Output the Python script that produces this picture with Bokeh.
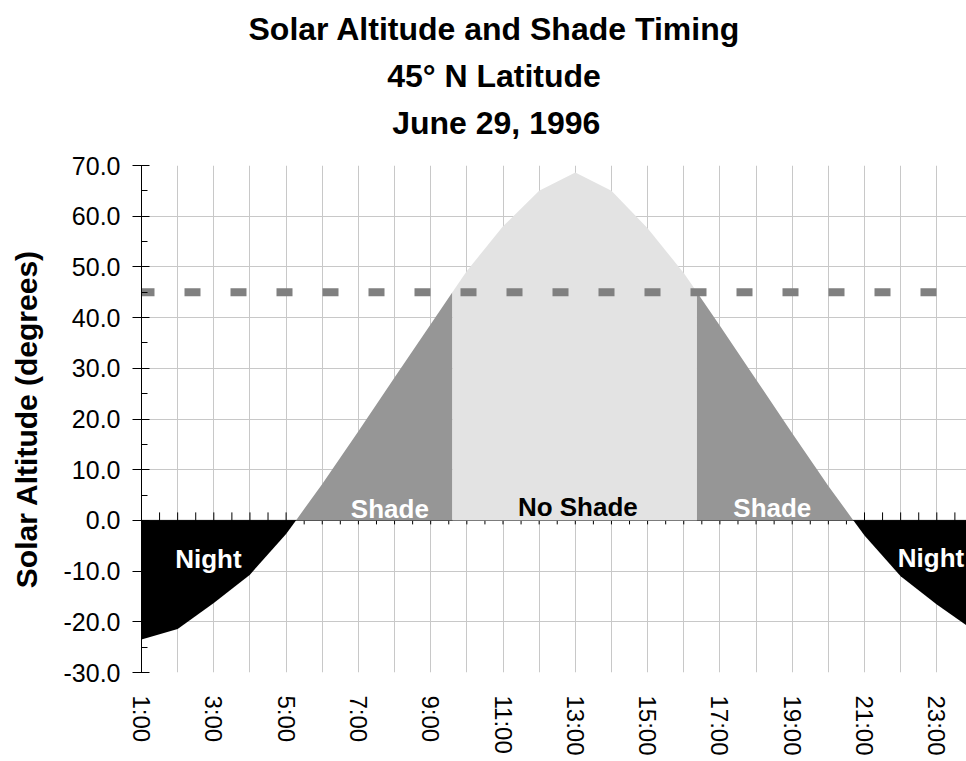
import numpy as np
from math import pi
from bokeh.plotting import figure
from bokeh.models import Range1d, FixedTicker, SingleIntervalTicker, PrintfTickFormatter, Label, Title
from bokeh.embed import file_html
from bokeh.resources import INLINE

# ---- data ----
hours = list(range(1, 25))
hour_labels = [f"{h}:00" for h in hours]
altitude = [-23.5, -21.4, -16.3, -10.7, -2.7, 7.2, 17.6, 28.2, 38.7, 49.2, 58.0, 65.0,
            68.6, 65.0, 57.6, 48.8, 38.4, 27.8, 17.2, 6.8, -3.0, -11.0, -16.6, -21.6]
shade_limit = 45.0
title_lines = ["Solar Altitude and Shade Timing", "45\u00b0 N Latitude", "June 29, 1996"]
y_title = "Solar Altitude (degrees)"
region_names = ["Night", "Shade", "No Shade", "Shade", "Night"]

FONT = "Liberation Sans"
LEFT, TOP = 141, 165
FRAME_W, FRAME_H = 825, 507
HOUR_PX = 36.15
Y0, Y1 = -30, 70
PX_PER_UNIT = FRAME_H / (Y1 - Y0)

# ---- geometry from data: insert crossings of 0 and shade limit ----
def insert_crossings(x, y, levels):
    xs, ys = [float(x[0])], [float(y[0])]
    for i in range(len(x) - 1):
        x0, y0, x1, y1 = x[i], y[i], x[i + 1], y[i + 1]
        cr = []
        for L in levels:
            if (y0 - L) * (y1 - L) < 0:
                t = (L - y0) / (y1 - y0)
                cr.append((x0 + t * (x1 - x0), L))
        cr.sort()
        for cx, cy in cr:
            xs.append(cx); ys.append(cy)
        xs.append(float(x1)); ys.append(float(y1))
    return np.array(xs), np.array(ys)

X, Y = insert_crossings(hours, altitude, [0.0, shade_limit])
zero_x = X[Y == 0.0]
lim_x = X[Y == shade_limit]

def band(a, b, neg=False):
    m = (X >= a) & (X <= b)
    ys = np.minimum(Y[m], 0) if neg else np.maximum(Y[m], 0)
    return (np.concatenate([[a], X[m], [b]]), np.concatenate([[0.0], ys, [0.0]]))

p = figure(frame_width=FRAME_W, frame_height=FRAME_H,
           x_range=Range1d(hours[0], hours[0] + FRAME_W / HOUR_PX),
           y_range=Range1d(Y0, Y1),
           output_backend="svg", toolbar_location=None, title=None,
           min_border_left=LEFT, min_border_top=TOP, min_border_right=0, min_border_bottom=0)
p.outline_line_color = None
p.background_fill_color = "white"

# spacer between frame and title block
p.add_layout(Title(text=" ", standoff=7, text_font=FONT, text_font_size="10px"), "above")
# titles (stacked above; first added is nearest the frame)
title_offsets = [107, 245.7, 250.7]
for t, off in reversed(list(zip(title_lines, title_offsets))):
    p.add_layout(Title(text=t, align="left", offset=off, standoff=9,
                       text_font=FONT, text_font_size="32px", text_font_style="bold",
                       text_color="black"), "above")

# grids
p.xgrid.ticker = FixedTicker(ticks=hours)
p.ygrid.ticker = SingleIntervalTicker(interval=10)
for g in (p.xgrid, p.ygrid):
    g.grid_line_color = "#c8c8c8"
    g.grid_line_width = 1

# y axis
ya = p.yaxis[0]
ya.ticker = SingleIntervalTicker(interval=10, num_minor_ticks=2)
ya.formatter = PrintfTickFormatter(format="%.1f")
ya.axis_line_color = "black"
ya.major_tick_out = 9
ya.major_tick_in = 8
ya.minor_tick_out = 0
ya.minor_tick_in = 6
ya.major_tick_line_color = "black"
ya.minor_tick_line_color = "black"
ya.major_label_text_font = FONT
ya.major_label_text_font_size = "25px"
ya.major_label_text_color = "black"
ya.major_label_standoff = 12
ya.axis_label = y_title
ya.axis_label_text_font = FONT
ya.axis_label_text_font_size = "30px"
ya.axis_label_text_font_style = "bold"
ya.axis_label_text_color = "black"
ya.axis_label_standoff = 18

# x axis (labels only, at the bottom)
xa = p.xaxis[0]
xa.ticker = FixedTicker(ticks=hours[0::2])
xa.major_label_overrides = {h: lab for h, lab in zip(hours, hour_labels)}
xa.axis_line_color = None
xa.major_tick_line_color = None
xa.minor_tick_line_color = None
xa.major_tick_out = 0
xa.major_tick_in = 0
xa.major_label_orientation = -pi / 2
xa.major_label_text_font = FONT
xa.major_label_text_font_size = "24px"
xa.major_label_text_color = "black"
xa.major_label_standoff = 23

# zero-line axis with half-hour ticks
tick_x = np.concatenate([np.array(hours, float), np.array(hours, float) + 0.5])
p.segment(x0=tick_x, y0=-4 / PX_PER_UNIT, x1=tick_x, y1=8 / PX_PER_UNIT,
          line_color="black", line_width=1)
p.line(x=[hours[0], hours[-1]], y=[0, 0], line_color="black", line_width=1)

# areas
night_l = band(X[0], zero_x[0], neg=True)
shade_l = band(zero_x[0], lim_x[0])
noshade = band(lim_x[0], lim_x[1])
shade_r = band(lim_x[1], zero_x[1])
night_r = band(zero_x[1], X[-1], neg=True)
for (px, py), col in [(night_l, "#000000"), (shade_l, "#969696"), (noshade, "#e3e3e3"),
                      (shade_r, "#969696"), (night_r, "#000000")]:
    p.patch(px, py, fill_color=col, line_color=None)

# 45 degree dashed line
p.line(x=[hours[0], hours[-1]], y=[shade_limit, shade_limit], line_color="#808080",
       line_width=8, line_dash="16 30", line_dash_offset=3)

# region labels
label_pos = [(2.85, -7.7, "white"), (7.87, 2.2, "white"), (13.07, 2.6, "black"),
             (18.45, 2.45, "white"), (22.84, -7.5, "white")]
for name, (lx, ly, col) in zip(region_names, label_pos):
    p.add_layout(Label(x=lx, y=ly, text=name, text_font=FONT, text_font_size="26px",
                       text_font_style="bold", text_color=col, text_align="center",
                       text_baseline="alphabetic"))

open("out.html", "w").write(file_html(p, INLINE))
